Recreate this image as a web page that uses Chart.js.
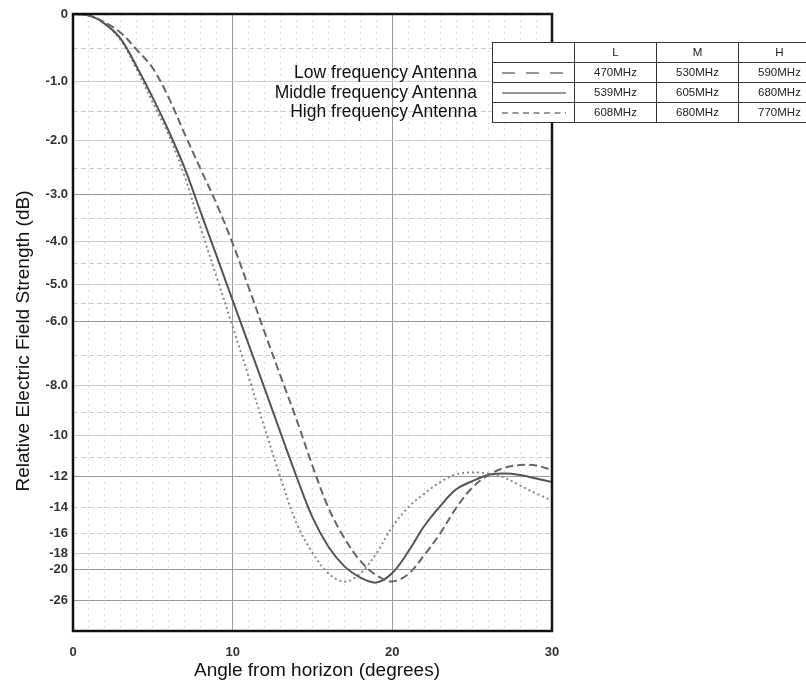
<!DOCTYPE html>
<html>
<head>
<meta charset="utf-8">
<script src="https://cdn.jsdelivr.net/npm/chart.js@4/dist/chart.umd.min.js"></script>
<style>
html,body{margin:0;padding:0;background:#fff;}
#wrap{position:relative;width:806px;height:681px;overflow:hidden;font-family:"Liberation Sans",Arial,sans-serif;color:#111;}
#c{position:absolute;left:0;top:0;}
.ytitle{position:absolute;left:23px;top:341px;width:420px;height:22px;margin-left:-210px;margin-top:-11px;line-height:22px;text-align:center;font-size:19px;transform:rotate(-90deg);white-space:nowrap;}
.xtitle{position:absolute;left:117px;width:400px;top:660px;line-height:20px;text-align:center;font-size:19px;white-space:nowrap;}
.leg{position:absolute;right:329px;font-size:17.5px;line-height:20px;white-space:nowrap;text-align:right;}
#tbl{position:absolute;left:492px;top:42px;border-collapse:collapse;background:#fff;table-layout:fixed;width:328px;border:1.5px solid #222;}
#tbl td{border:1px solid #333;height:19px;padding:0;text-align:center;font-size:11.5px;color:#222;width:81px;line-height:19px;}
#tbl svg{display:block;margin:0 auto;}
</style>
</head>
<body>
<div id="wrap">
<canvas id="c" width="806" height="681"></canvas>
<div class="ytitle">Relative Electric Field Strength (dB)</div>
<div class="xtitle">Angle from horizon (degrees)</div>
<div id="legtext"></div>
<table id="tbl"></table>
</div>
<script>
// ---- data ----
const angles = [0,1,2,3,4,5,6,7,8,9,10,11,12,13,14,15,16,17,18,19,20,21,22,23,24,25,26,27,28,29,30];
const lowDb  = [0,-0.02,-0.12,-0.27,-0.52,-0.80,-1.27,-1.88,-2.52,-3.20,-4.04,-5.08,-6.3,-7.68,-9.3,-11.45,-14.0,-16.45,-18.9,-20.9,-21.9,-20.7,-18.2,-16.0,-14.0,-12.68,-11.95,-11.56,-11.40,-11.43,-11.67];
const midDb  = [0,-0.02,-0.14,-0.36,-0.78,-1.27,-1.83,-2.50,-3.37,-4.33,-5.42,-6.66,-8.11,-9.87,-12.04,-14.7,-17.3,-19.6,-21.25,-22.1,-20.55,-17.8,-15.38,-13.87,-12.78,-12.3,-11.94,-11.86,-11.94,-12.14,-12.34];
const highDb = [0,-0.02,-0.14,-0.38,-0.82,-1.35,-1.9,-2.66,-3.70,-4.83,-6.14,-7.7,-9.65,-12.1,-15.15,-17.95,-20.6,-21.95,-20.6,-18.0,-15.45,-13.95,-13.05,-12.35,-11.9,-11.8,-11.87,-12.08,-12.55,-13.03,-13.5];

const seriesNames = ['Low frequency Antenna','Middle frequency Antenna','High frequency Antenna'];
const bandHeaders = ['L','M','H'];
const lowBands  = ['470MHz','530MHz','590MHz'];
const midBands  = ['539MHz','605MHz','680MHz'];
const highBands = ['608MHz','680MHz','770MHz'];

const yTickDb     = [0,-1,-2,-3,-4,-5,-6,-8,-10,-12,-14,-16,-18,-20,-26];
const yTickLabels = ['0','-1.0','-2.0','-3.0','-4.0','-5.0','-6.0','-8.0','-10','-12','-14','-16','-18','-20','-26'];
const yMinorDb    = [-0.5,-1.5,-2.5,-3.5,-4.5,-5.5,-7,-9,-11];
const xLabelEvery = 10;

// ---- styles ----
const darkLevels = [-3,-6,-12,-20,-26];
const dashedLevels = yMinorDb.concat([-14,-16]);

const toRatio = db => Math.pow(10, db/20);
const toDb = r => Math.round(20*Math.log10(r)*2)/2;
const pts = arr => angles.map((a,i)=>({x:a, y:toRatio(arr[i])}));

const allLevels = yTickDb.concat(yMinorDb).map(toRatio).sort((a,b)=>a-b);

const framePlugin = {
  id:'frame',
  afterDraw(chart){
    const {ctx, chartArea:{left,top,right,bottom}} = chart;
    ctx.save();
    ctx.strokeStyle = '#111';
    ctx.lineWidth = 2.5;
    ctx.strokeRect(left, top, right-left, bottom-top);
    ctx.restore();
  }
};

const lineBase = {pointRadius:0, tension:0.35, fill:false, borderWidth:2};

new Chart(document.getElementById('c'), {
  type:'line',
  data:{
    datasets:[
      Object.assign({label:seriesNames[0], data:pts(lowDb),  borderColor:'#666', borderDash:[8,4]}, lineBase),
      Object.assign({label:seriesNames[1], data:pts(midDb),  borderColor:'#555'}, lineBase),
      Object.assign({label:seriesNames[2], data:pts(highDb), borderColor:'#888', borderDash:[2,3]}, lineBase)
    ]
  },
  options:{
    responsive:false,
    animation:false,
    devicePixelRatio:1,
    layout:{padding:{left:0, top:14, right:254, bottom:0}},
    plugins:{legend:{display:false}, tooltip:{enabled:false}},
    scales:{
      x:{
        type:'linear', min:0, max:30,
        afterFit(s){ s.height = 50; },
        ticks:{stepSize:1, autoSkip:false, maxRotation:0, padding:14, color:'#333',
          font:{family:'Liberation Sans', size:13, weight:'bold'},
          callback:v => (v % xLabelEvery === 0 ? String(v) : '')},
        grid:{drawTicks:false, lineWidth:1,
          color:c => (c.tick && c.tick.value % 10 === 0) ? '#9a9a9a' : '#dedede'},
        border:{display:false, dash:c => (c.tick && c.tick.value % 10 === 0) ? [] : [2,4]}
      },
      y:{
        type:'linear', min:0, max:1,
        afterFit(s){ s.width = 73; },
        afterBuildTicks(s){ s.ticks = allLevels.map(v => ({value:v})); },
        ticks:{autoSkip:false, padding:5, color:'#333',
          font:{family:'Liberation Sans', size:13, weight:'bold'},
          callback:v => { const i = yTickDb.indexOf(toDb(v)); return i >= 0 ? yTickLabels[i] : ''; }},
        grid:{drawTicks:false, lineWidth:1,
          color:c => { if(!c.tick) return '#ccc'; const d = toDb(c.tick.value); return darkLevels.includes(d) ? '#9a9a9a' : '#cdcdcd'; }},
        border:{display:false, dash:c => { if(!c.tick) return []; const d = toDb(c.tick.value); return dashedLevels.includes(d) ? [5,3] : []; }}
      }
    }
  },
  plugins:[framePlugin]
});

// ---- legend text & table ----
const legTops = [62, 82, 101];
const lt = document.getElementById('legtext');
seriesNames.forEach((n,i)=>{
  const d = document.createElement('div');
  d.className = 'leg'; d.style.top = legTops[i] + 'px'; d.textContent = n;
  lt.appendChild(d);
});
const dashes = [[13,11],[],[6,4.5]];
const rows = [lowBands, midBands, highBands];
const tbl = document.getElementById('tbl');
let h = '<tr><td></td>' + bandHeaders.map(b=>'<td>'+b+'</td>').join('') + '</tr>';
rows.forEach((r,i)=>{
  const da = dashes[i].length ? ' stroke-dasharray="'+dashes[i].join(' ')+'"' : '';
  const svg = '<svg width="64" height="6"><line x1="0" y1="3" x2="64" y2="3" stroke="#333" stroke-width="1.2"'+da+'/></svg>';
  h += '<tr><td>'+svg+'</td>' + r.map(v=>'<td>'+v+'</td>').join('') + '</tr>';
});
tbl.innerHTML = h;
</script>
</body>
</html>
